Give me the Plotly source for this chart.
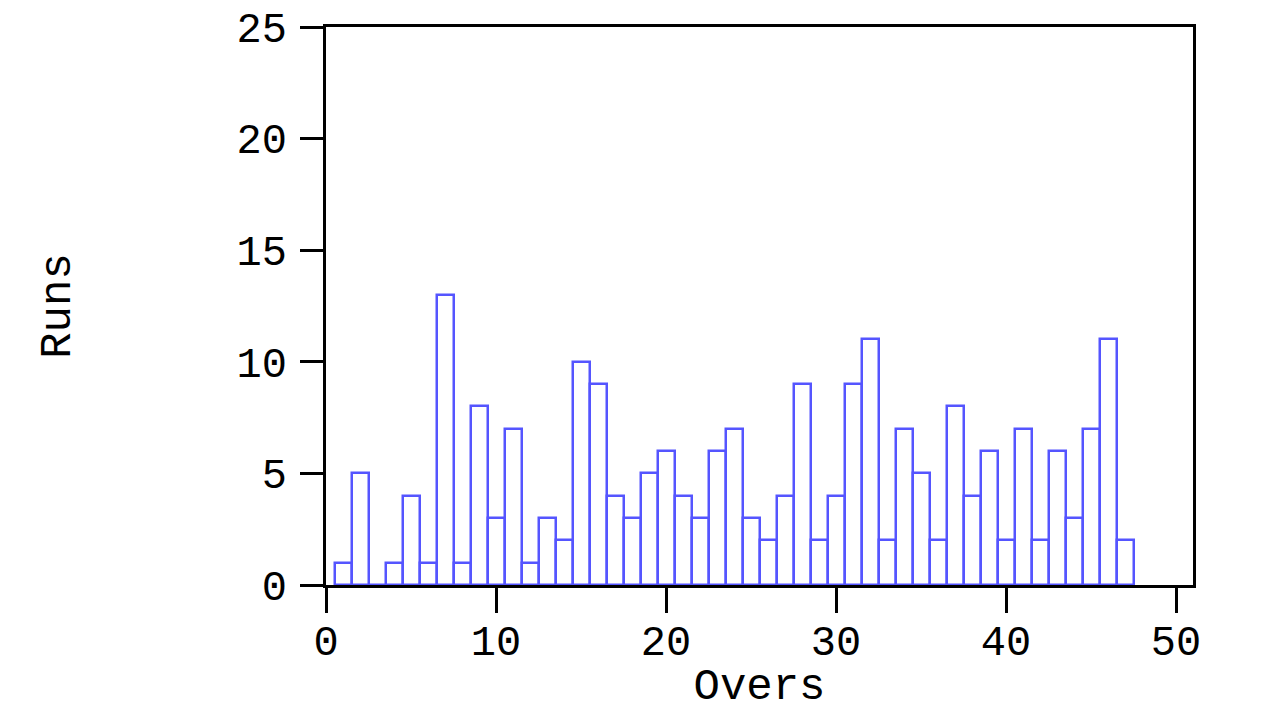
import plotly.graph_objects as go

# runs scored in each over
overs = list(range(1, 48))
runs = [1, 5, 0, 1, 4, 1, 13, 1, 8, 3,
        7, 1, 3, 2, 10, 9, 4, 3, 5, 6,
        4, 3, 6, 7, 3, 2, 4, 9, 2, 4,
        9, 11, 2, 7, 5, 2, 8, 4, 6, 2,
        7, 2, 6, 3, 7, 11, 2]

x_ticks = [0, 10, 20, 30, 40, 50]
y_ticks = [0, 5, 10, 15, 20, 25]

font_mono = "Liberation Mono"

fig = go.Figure(go.Bar(
    x=overs,
    y=runs,
    width=1,
    marker=dict(color="rgba(255,255,255,0)",
                line=dict(color="#5555ff", width=2.5)),
    cliponaxis=False,
))

axis_style = dict(
    showgrid=False,
    zeroline=False,
    showline=True,
    linecolor="black",
    linewidth=2.5,
    mirror=True,
    ticks="outside",
    tickwidth=2.5,
    tickcolor="black",
    tickfont=dict(family=font_mono, size=42, color="black"),
    ticklabeloverflow="allow",
    layer="below traces",
)

# the page body has an 8px margin, so the figure is a bit smaller than the window
fig.update_layout(
    width=1264,
    height=704,
    autosize=False,
    margin=dict(l=318, r=79, t=19, b=127),
    plot_bgcolor="white",
    paper_bgcolor="white",
    bargap=0,
    showlegend=False,
    xaxis=dict(range=[0, 51], tickvals=x_ticks, ticklen=25, ticklabelstandoff=-8,
               title=dict(text="Overs", font=dict(family=font_mono, size=44, color="black"), standoff=20),
               automargin=False, **axis_style),
    yaxis=dict(range=[0, 25], tickvals=y_ticks, ticklen=23, ticklabelstandoff=5,
               title=dict(text="Runs", font=dict(family=font_mono, size=44, color="black"), standoff=153),
               automargin=False, **axis_style),
)

fig.write_html("out.html")
